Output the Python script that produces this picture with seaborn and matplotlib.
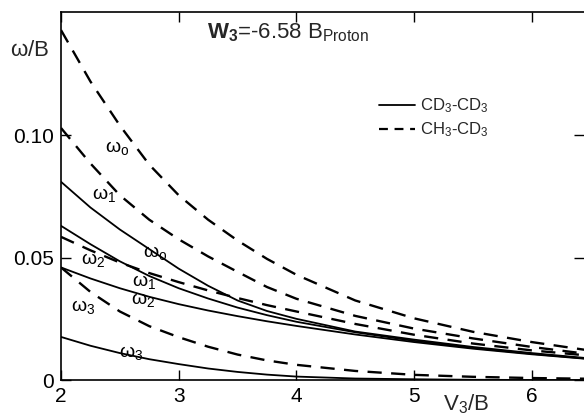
import matplotlib
matplotlib.use("Agg")
import matplotlib.pyplot as plt
import seaborn as sns
import pandas as pd
from matplotlib.lines import Line2D

# ---------------- data ----------------
v3 = [2.0, 2.25, 2.5, 2.75, 3.0, 3.25, 3.5, 3.75, 4.0, 4.5, 5.0, 5.5, 6.0, 6.5]

# CD3-CD3 (solid)
cd_w0 = [0.081, 0.0705, 0.0615, 0.0535, 0.0455, 0.0385, 0.0325, 0.0282, 0.0250, 0.0198, 0.0165, 0.0135, 0.011, 0.0088]
cd_w1 = [0.063, 0.0555, 0.0485, 0.0425, 0.0375, 0.0333, 0.0296, 0.0265, 0.0238, 0.0195, 0.0160, 0.0131, 0.0107, 0.0086]
cd_w2 = [0.046, 0.0415, 0.0375, 0.034, 0.031, 0.0284, 0.0261, 0.0240, 0.0221, 0.0186, 0.0155, 0.0128, 0.0105, 0.0085]
cd_w3 = [0.0176, 0.014, 0.011, 0.0085, 0.0065, 0.0047, 0.0033, 0.0022, 0.0014, 0.0006, 0.0003, 0.0001, 0.0, 0.0]

# CH3-CD3 (dashed)
ch_w0 = [0.143, 0.122, 0.104, 0.088, 0.0755, 0.0655, 0.057, 0.0495, 0.0430, 0.0325, 0.0252, 0.0197, 0.0155, 0.012]
ch_w1 = [0.103, 0.0885, 0.0755, 0.0655, 0.0575, 0.0505, 0.0442, 0.0380, 0.0332, 0.0262, 0.0210, 0.0170, 0.0135, 0.0105]
ch_w2 = [0.0585, 0.053, 0.048, 0.0437, 0.0400, 0.0366, 0.0335, 0.0306, 0.0280, 0.0229, 0.0185, 0.0149, 0.0121, 0.0099]
ch_w3 = [0.046, 0.036, 0.028, 0.022, 0.0175, 0.0136, 0.0104, 0.0080, 0.0062, 0.0037, 0.0021, 0.0013, 0.0008, 0.0005]

x_ticks = [2, 3, 4, 5, 6]
y_ticks = [0, 0.05, 0.10]
y_tick_labels = ["0", "0.05", "0.10"]

series = {
    ("CD3-CD3", "w0"): cd_w0, ("CD3-CD3", "w1"): cd_w1,
    ("CD3-CD3", "w2"): cd_w2, ("CD3-CD3", "w3"): cd_w3,
    ("CH3-CD3", "w0"): ch_w0, ("CH3-CD3", "w1"): ch_w1,
    ("CH3-CD3", "w2"): ch_w2, ("CH3-CD3", "w3"): ch_w3,
}
rows = []
for (mol, lev), vals in series.items():
    for xv, yv in zip(v3, vals):
        rows.append({"V3": xv, "w": yv, "mol": mol, "level": lev})
df = pd.DataFrame(rows)

# ---------------- style ----------------
sns.set_theme(style="ticks")
plt.rcParams["font.family"] = ["Liberation Sans", "DejaVu Sans"]
plt.rcParams["mathtext.fontset"] = "custom"
plt.rcParams["mathtext.rm"] = "Liberation Sans"
plt.rcParams["mathtext.it"] = "Liberation Sans"
plt.rcParams["mathtext.bf"] = "Liberation Sans:bold"
plt.rcParams["mathtext.default"] = "regular"

W, H = 584, 416
fig = plt.figure(figsize=(W / 100, H / 100), dpi=100)
ax = fig.add_axes([61 / W, (H - 380) / H, (W - 61) / W, (380 - 12) / H])

for (mol, lev), vals in series.items():
    sub = df[(df.mol == mol) & (df.level == lev)]
    if mol == "CD3-CD3":
        sns.lineplot(data=sub, x="V3", y="w", ax=ax, color="black", lw=1.3,
                     estimator=None, sort=True)
    else:
        sns.lineplot(data=sub, x="V3", y="w", ax=ax, color="black", lw=1.7,
                     estimator=None, sort=True)
        ax.lines[-1].set_dashes([6, 4])

ax.set_xlim(2, 2 + (W - 61) / 117.7)
ax.set_ylim(0, (380 - 12) / 2447)
ax.set_xticks(x_ticks)
ax.set_xticklabels([str(t) for t in x_ticks])
ax.set_yticks(y_ticks)
ax.set_yticklabels(y_tick_labels)
ax.tick_params(direction="in", length=7, width=1, top=True, right=True,
               labelsize=15, colors="black", pad=5)
ax.set_xlabel("")
ax.set_ylabel("")
for s in ["left", "bottom", "top"]:
    ax.spines[s].set_color("black")
    ax.spines[s].set_linewidth(1.2)
ax.spines["right"].set_visible(False)

# curve labels
lab = dict(fontsize=14, ha="center", va="center", color="black")
ax.text(2.48, 0.0948, r"$\omega_o$", **lab)
ax.text(2.37, 0.0756, r"$\omega_1$", **lab)
ax.text(2.80, 0.0519, r"$\omega_o$", **lab)
ax.text(2.71, 0.0400, r"$\omega_1$", **lab)
ax.text(2.70, 0.0327, r"$\omega_2$", **lab)
ax.text(2.27, 0.0490, r"$\omega_2$", **lab)
ax.text(2.19, 0.0298, r"$\omega_3$", **lab)
ax.text(2.60, 0.0110, r"$\omega_3$", **lab)

# title inside
fig.text(207 / W, 1 - 33 / H, r"$\mathbf{W_3}$=-6.58 B$_{Proton}$",
         fontsize=16, ha="left", va="center")

# legend
handles = [Line2D([], [], color="black", lw=1.3),
           Line2D([], [], color="black", lw=1.6, dashes=[4, 3])]
ax.legend(handles, ["CD$_3$-CD$_3$", "CH$_3$-CD$_3$"], frameon=False,
          loc="upper left", bbox_to_anchor=((372 - 61) / (W - 61), (380 - 90) / 368),
          fontsize=12, handlelength=2.2, handletextpad=0.3, labelspacing=0.3,
          borderaxespad=0)

# axis labels
fig.text(30 / W, 1 - 50 / H, r"$\omega$/B", fontsize=16, ha="center", va="center")
fig.text(466 / W, 1 - 404 / H, "V$_3$/B", fontsize=16, ha="center", va="center")

fig.savefig("out.png", dpi=100)
